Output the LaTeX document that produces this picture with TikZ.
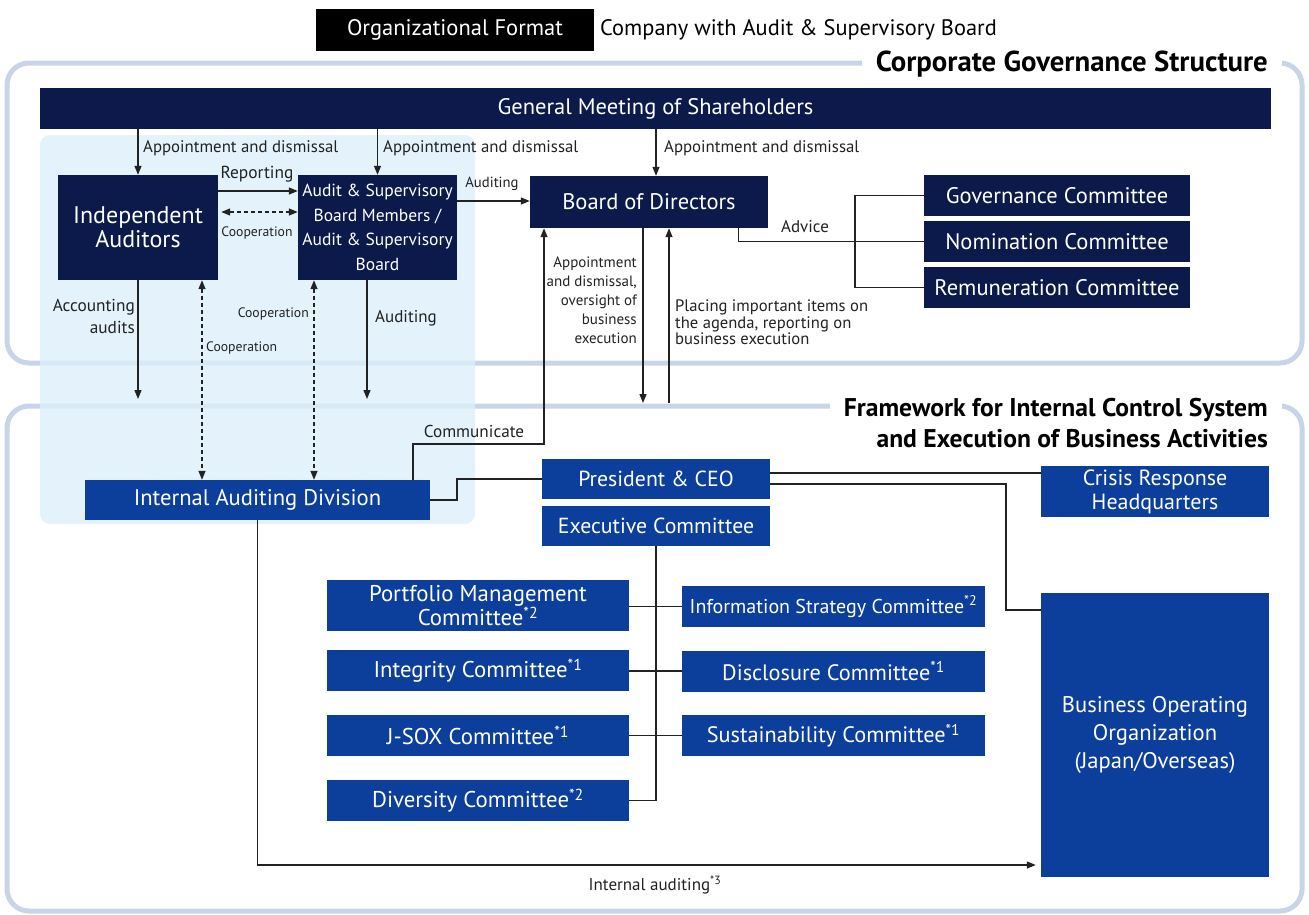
\documentclass[tikz,border=0pt]{standalone}
\usepackage{fontspec}
\setmainfont{PT Sans}
\usetikzlibrary{arrows.meta}
\definecolor{navyc}{HTML}{0B1A4A}
\definecolor{bluec}{HTML}{0C3F9B}
\definecolor{lightc}{HTML}{DCEFFA}
\definecolor{framec}{HTML}{C9D4E8}
\definecolor{linec}{HTML}{222222}
\newcommand{\fsz}[2]{\fontsize{#1}{#2}\selectfont}
\begin{document}
\begin{tikzpicture}[x=1pt,y=-1pt,
  navybox/.style={fill=navyc,text=white,inner sep=0pt,align=center},
  bluebox/.style={fill=bluec,text=white,inner sep=0pt,align=center},
  conn/.style={line width=1.3pt,draw=linec},
  arr/.style={conn,-{Triangle[length=9pt,width=7pt]}},
  darr/.style={conn,dash pattern=on 4pt off 3pt,{Triangle[length=9pt,width=7pt]}-{Triangle[length=9pt,width=7pt]}},
  lbl/.style={text=linec,inner sep=1pt,font=\fsz{16.8}{18}},
  slbl/.style={text=linec,inner sep=1pt,font=\fsz{13.7}{16}},
]
\useasboundingbox (0,0) rectangle (1309,914);
% frames
\draw[framec,line width=5pt,rounded corners=22pt] (7,63) rectangle (1302,363);
\draw[framec,line width=5pt,rounded corners=22pt] (7,406) rectangle (1302,911);
\fill[lightc,fill opacity=0.8,rounded corners=10pt] (40,135) rectangle (475,524);
\node[fill=white,anchor=east,inner xsep=14pt,inner ysep=2pt,font=\bfseries\fsz{28.8}{30}] (cgs) at (1282,64) {Corporate Governance Structure};
\node[fill=white,anchor=east,inner xsep=14pt,inner ysep=2pt,font=\bfseries\fsz{25.6}{28}] (fw1) at (1282,410) {Framework for Internal Control System};
\node[anchor=east,inner xsep=0pt,font=\bfseries\fsz{25.6}{28}] (fw2) at (1268,439) {and Execution of Business Activities};
% header
\node[fill=black,text=white,minimum width=278pt,minimum height=42pt,inner sep=0pt,font=\fsz{22.5}{24}] (org) at (455,30) {Organizational Format};
\node[anchor=west,inner sep=0pt,font=\fsz{22.4}{24}] (comp) at (600,30) {Company with Audit \& Supervisory Board};
% governance boxes
\node[navybox,minimum width=1231pt,minimum height=41pt,font=\fsz{22.5}{24}] (gm) at (655.5,108.5) {General Meeting of Shareholders};
\node[navybox,minimum width=160pt,minimum height=105pt,font=\fsz{24}{24}] (ia) at (138,227.5) {Independent\\Auditors};
\node[navybox,minimum width=159pt,minimum height=105pt,font=\fsz{17.5}{24.5}] (asb) at (377.5,227.5) {Audit \& Supervisory\\Board Members /\\Audit \& Supervisory\\Board};
\node[navybox,minimum width=238pt,minimum height=52pt,font=\fsz{22.5}{24}] (bod) at (649,202) {Board of Directors};
\node[navybox,minimum width=266pt,minimum height=41pt,font=\fsz{22.5}{24}] (gov) at (1057,195.5) {Governance Committee};
\node[navybox,minimum width=266pt,minimum height=41pt,font=\fsz{22.5}{24}] (nom) at (1057,241.5) {Nomination Committee};
\node[navybox,minimum width=266pt,minimum height=41pt,font=\fsz{22.5}{24}] (rem) at (1057,287.5) {Remuneration Committee};
% execution boxes
\node[bluebox,minimum width=345pt,minimum height=40pt,font=\fsz{22.6}{24}] (iad) at (257.5,500) {Internal Auditing Division};
\node[bluebox,minimum width=228pt,minimum height=40pt,font=\fsz{21.8}{24}] (pres) at (656,479) {President \& CEO};
\node[bluebox,minimum width=228pt,minimum height=40pt,font=\fsz{21.8}{24}] (exec) at (656,526) {Executive Committee};
\node[bluebox,minimum width=228pt,minimum height=51pt,font=\fsz{22}{24}] (crisis) at (1155,491.5) {Crisis Response\\Headquarters};
\node[bluebox,minimum width=228pt,minimum height=284pt,font=\fsz{22.6}{28}] (busop) at (1155,735) {Business Operating\\Organization\\(Japan/Overseas)};
\node[bluebox,minimum width=302pt,minimum height=51pt,font=\fsz{22.8}{23}] (port) at (478,605.5) {Portfolio Management\\Committee\textsuperscript{*2}};
\node[bluebox,minimum width=302pt,minimum height=41pt,font=\fsz{22.8}{24}] (integ) at (478,670.5) {Integrity Committee\textsuperscript{*1}};
\node[bluebox,minimum width=302pt,minimum height=41pt,font=\fsz{22.8}{24}] (jsox) at (478,735.5) {J-SOX Committee\textsuperscript{*1}};
\node[bluebox,minimum width=302pt,minimum height=41pt,font=\fsz{22.8}{24}] (div) at (478,800.5) {Diversity Committee\textsuperscript{*2}};
\node[bluebox,minimum width=303pt,minimum height=41pt,font=\fsz{20}{24}] (info) at (833.5,606.5) {Information Strategy Committee\textsuperscript{*2}};
\node[bluebox,minimum width=303pt,minimum height=41pt,font=\fsz{22.3}{24}] (disc) at (833.5,671) {Disclosure Committee\textsuperscript{*1}};
\node[bluebox,minimum width=303pt,minimum height=41pt,font=\fsz{22.3}{24}] (sust) at (833.5,735.5) {Sustainability Committee\textsuperscript{*1}};
% helper coordinates
\coordinate (bx) at (855,0);
\coordinate (bd1) at (643,403);
\coordinate (bu1) at (669,403);
\coordinate (cm1) at (413,444);
\coordinate (cm2) at (544,444);
\coordinate (iaend) at (138,399);
\coordinate (asbx) at (367,0);
\coordinate (asbend) at (367,399);
\coordinate (dx1) at (202,0);
\coordinate (dx2) at (314,0);
\coordinate (jx) at (457,0);
\coordinate (px) at (1006,0);
\coordinate (ia3) at (0,865);
% appointment arrows
\draw[arr] (ia.north |- gm.south) -- (ia.north);
\node[lbl,anchor=west] at (142,148) {Appointment and dismissal};
\draw[arr] (asb.north |- gm.south) -- (asb.north);
\node[lbl,anchor=west] at (382,148) {Appointment and dismissal};
\draw[arr] ([xshift=7pt]bod.north |- gm.south) -- ([xshift=7pt]bod.north);
\node[lbl,anchor=west] at (663,148) {Appointment and dismissal};
% IA <-> ASB
\draw[arr] (ia.east |- 0,191) -- (asb.west |- 0,191);
\node[lbl,font=\fsz{17.4}{18}] at (257,174) {Reporting};
\draw[darr,shorten <=3pt] (ia.east |- 0,212) -- (asb.west |- 0,212);
\node[slbl] at (257,233) {Cooperation};
% ASB -> BoD
\draw[arr] (asb.east |- 0,201) -- (bod.west |- 0,201);
\node[slbl,font=\fsz{14.7}{16}] at (492,184) {Auditing};
% BoD -> committees
\draw[conn] ([xshift=-30pt]bod.south east) |- (nom.west);
\draw[conn] (gov.west) -- (gov.west -| bx) -- (rem.west -| bx) -- (rem.west);
\node[lbl,font=\fsz{17}{18}] at (805,227) {Advice};
% BoD <-> execution
\draw[arr] (bod.south -| bd1) -- (bd1);
\draw[arr] (bu1) -- (bod.south -| bu1);
\node[anchor=north east,align=right,inner sep=0pt,text=linec,font=\fsz{15}{19}] at (637,257) {Appointment\\and dismissal,\\oversight of\\business\\execution};
\node[anchor=north west,align=left,inner sep=0pt,text=linec,font=\fsz{16.6}{16.5}] at (675,300) {Placing important items on\\the agenda, reporting on\\business execution};
% communicate
\draw[arr] (iad.north -| cm1) -- (cm1) -- (cm2) -- (bod.south -| cm2);
\node[slbl,font=\fsz{17.2}{18}] at (474,431) {Communicate};
% audits down
\draw[arr] (ia.south) -- (iaend);
\node[anchor=east,align=right,inner sep=0pt,text=linec,font=\fsz{17.3}{22}] at (135,316) {Accounting\\audits};
\draw[arr] (asb.south -| asbx) -- (asbend);
\node[lbl,anchor=west,font=\fsz{17}{18}] at (374,318) {Auditing};
% cooperation dashed
\draw[darr] (ia.south -| dx1) -- (iad.north -| dx1);
\node[slbl,anchor=west] at (205,348) {Cooperation};
\draw[darr] (asb.south -| dx2) -- (iad.north -| dx2);
\node[slbl,anchor=east] at (310,314) {Cooperation};
% execution connectors
\draw[conn] (iad.east) -- (iad.east -| jx) -- (pres.west -| jx) -- (pres.west);
\draw[conn] (pres.east |- 0,473) -- (crisis.west |- 0,473);
\draw[conn] (pres.east |- 0,484) -| (px |- 0,610) -- (busop.west |- 0,610);
\draw[conn] (exec.south) |- (div.east);
\draw[conn] (info.west -| port.east) -- (info.west);
\draw[conn] (disc.west -| integ.east) -- (disc.west);
\draw[conn] (jsox.east) -- (sust.west);
\draw[arr,shorten >=5pt] (iad.south) |- (busop.west |- ia3);
\node[text=linec,inner sep=0pt,font=\fsz{17}{18}] at (655,885) {Internal auditing\textsuperscript{*3}};
\end{tikzpicture}
\end{document}
